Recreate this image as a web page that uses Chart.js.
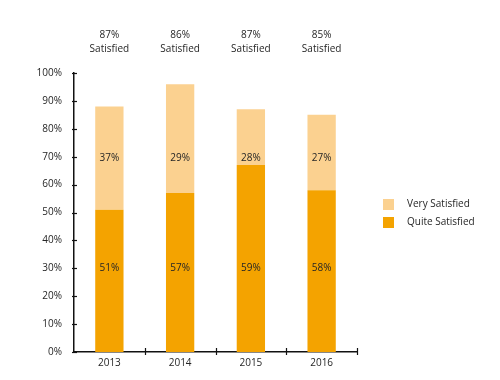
<!DOCTYPE html>
<html><head><meta charset="utf-8">
<script src="https://cdn.jsdelivr.net/npm/chart.js@4/dist/chart.umd.min.js"></script>
<style>html,body{margin:0;padding:0;background:#fff}canvas{display:block}</style>
</head><body>
<canvas id="c" width="500" height="380"></canvas>
<script>
const categories = ['2013', '2014', '2015', '2016'];
// bar heights as drawn in the picture
const quiteSatisfied = [51, 57, 67, 58];
const verySatisfied = [37, 39, 20, 27];
// printed labels
const quiteLabels = ['51%', '57%', '59%', '58%'];
const veryLabels = ['37%', '29%', '28%', '27%'];
const totalLabels = ['87%', '86%', '87%', '85%'];
const totalCaption = 'Satisfied';
const seriesNames = ['Very Satisfied', 'Quite Satisfied'];
const yTicks = [0,10,20,30,40,50,60,70,80,90,100];

const LIGHT = '#FBD190', DARK = '#F4A300', TXT = '#262626';
const FONT = '"Open Sans", sans-serif';

const overlay = {
  id: 'overlay',
  afterDraw(chart) {
    const ctx = chart.ctx, xs = chart.scales.x, ys = chart.scales.y, a = chart.chartArea;
    ctx.save();
    ctx.strokeStyle = '#111'; ctx.lineWidth = 1.2;
    yTicks.forEach(v => {
      const y = Math.round(ys.getPixelForValue(v)) + 0.5;
      ctx.beginPath(); ctx.moveTo(a.left - 2, y); ctx.lineTo(a.left + 3, y); ctx.stroke();
    });
    for (let i = 1; i <= categories.length; i++) {
      const x = i < categories.length
        ? (xs.getPixelForValue(i - 1) + xs.getPixelForValue(i)) / 2
        : a.right;
      const xx = Math.round(x) + 0.5;
      ctx.beginPath(); ctx.moveTo(xx, a.bottom - 4); ctx.lineTo(xx, a.bottom + 3); ctx.stroke();
    }
    ctx.fillStyle = TXT; ctx.font = '10px ' + FONT;
    ctx.textAlign = 'center'; ctx.textBaseline = 'middle';
    categories.forEach((c, i) => {
      const x = xs.getPixelForValue(i);
      ctx.fillText(quiteLabels[i], x, ys.getPixelForValue(30));
      ctx.fillText(veryLabels[i], x, ys.getPixelForValue(69.5));
      ctx.fillText(totalLabels[i], x, 35);
      ctx.fillText(totalCaption, x, 49);
    });
    const lx = 383;
    ctx.textAlign = 'left';
    [[LIGHT, seriesNames[0], 199], [DARK, seriesNames[1], 217]].forEach(([col, name, y]) => {
      ctx.fillStyle = col; ctx.fillRect(lx, y, 11, 11);
      ctx.fillStyle = TXT; ctx.fillText(name, lx + 24, y + 5.5);
    });
    ctx.restore();
  }
};

new Chart(document.getElementById('c'), {
  type: 'bar',
  data: {
    labels: categories,
    datasets: [
      { label: seriesNames[1], data: quiteSatisfied, backgroundColor: DARK, stack: 's', barPercentage: 0.4, categoryPercentage: 1 },
      { label: seriesNames[0], data: verySatisfied, backgroundColor: LIGHT, stack: 's', barPercentage: 0.4, categoryPercentage: 1 }
    ]
  },
  options: {
    responsive: false,
    animation: false,
    layout: { padding: { top: 73, left: 0, right: 143, bottom: 0 } },
    plugins: { legend: { display: false }, tooltip: { enabled: false } },
    scales: {
      x: {
        stacked: true,
        grid: { display: false, drawTicks: false },
        border: { display: true, color: '#111', width: 1.5 },
        ticks: { color: TXT, font: { family: FONT, size: 10 }, padding: 5 },
        afterFit(s) { s.height = 28; }
      },
      y: {
        stacked: true, min: 0, max: 100,
        afterBuildTicks(s) { s.ticks = yTicks.map(v => ({ value: v })); },
        grid: { display: false, drawTicks: false },
        border: { display: true, color: '#111', width: 1.5 },
        ticks: { color: TXT, font: { family: FONT, size: 10 }, padding: 12, callback: v => v + '%' },
        afterFit(s) { s.width = 74; }
      }
    }
  },
  plugins: [overlay]
});
</script>
</body></html>
